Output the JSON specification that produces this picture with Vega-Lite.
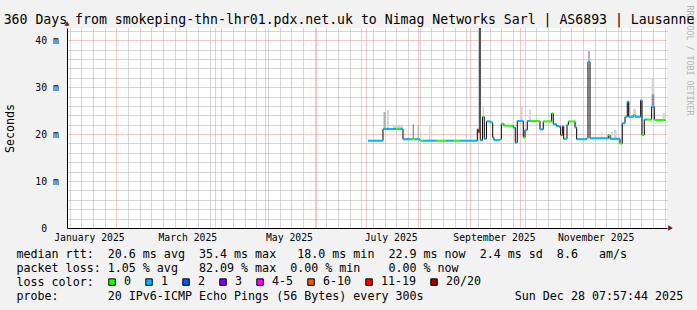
{
  "$schema": "https://vega.github.io/schema/vega-lite/v6.json",
  "width": 600,
  "height": 200,
  "autosize": "none",
  "padding": {"left": 67, "top": 28, "right": 30, "bottom": 82},
  "background": "#f2f2f2",
  "title": {
    "text": "360 Days from smokeping-thn-lhr01.pdx.net.uk to Nimag Networks Sarl | AS6893 | Lausanne",
    "font": "DejaVu Sans Mono",
    "fontSize": 13.2,
    "fontWeight": "normal",
    "color": "black",
    "anchor": "middle",
    "dx": -18,
    "offset": -32,
    "baseline": "alphabetic"
  },
  "datasets": {
    "median": [
      {"t":"2025-07-01T22:00","t2":"2025-07-10T22:00","med":18.6,"loss":"1"},
      {"t":"2025-07-10T22:00","t2":"2025-07-18T17:00","med":21.1,"loss":"1"},
      {"t":"2025-07-18T17:00","t2":"2025-07-21T03:00","med":21.1,"loss":"0"},
      {"t":"2025-07-21T03:00","t2":"2025-07-22T22:00","med":21.1,"loss":"1"},
      {"t":"2025-07-22T22:00","t2":"2025-07-28T03:00","med":18.9,"loss":"1"},
      {"t":"2025-07-28T03:00","t2":"2025-07-30T03:00","med":18.9,"loss":"0"},
      {"t":"2025-07-30T03:00","t2":"2025-08-02T03:00","med":18.9,"loss":"1"},
      {"t":"2025-08-02T03:00","t2":"2025-08-04T02:00","med":18.6,"loss":"0"},
      {"t":"2025-08-04T02:00","t2":"2025-08-12T03:00","med":18.6,"loss":"1"},
      {"t":"2025-08-12T03:00","t2":"2025-08-18T03:00","med":18.6,"loss":"0"},
      {"t":"2025-08-18T03:00","t2":"2025-08-22T02:00","med":18.6,"loss":"1"},
      {"t":"2025-08-22T02:00","t2":"2025-08-26T03:00","med":18.6,"loss":"0"},
      {"t":"2025-08-26T03:00","t2":"2025-09-05T12:00","med":18.6,"loss":"1"},
      {"t":"2025-09-05T12:00","t2":"2025-09-06T02:00","med":21.0,"loss":"4-5"},
      {"t":"2025-09-06T02:00","t2":"2025-09-07T07:00","med":20.5,"loss":"11-19"},
      {"t":"2025-09-07T07:00","t2":"2025-09-08T15:00","med":18.7,"loss":"1"},
      {"t":"2025-09-08T15:00","t2":"2025-09-09T17:00","med":23.7,"loss":"0"},
      {"t":"2025-09-09T17:00","t2":"2025-09-11T00:00","med":19.0,"loss":"1"},
      {"t":"2025-09-11T00:00","t2":"2025-09-13T13:00","med":22.7,"loss":"1"},
      {"t":"2025-09-13T13:00","t2":"2025-09-14T18:00","med":22.5,"loss":"0"},
      {"t":"2025-09-14T18:00","t2":"2025-09-15T12:00","med":19.3,"loss":"1"},
      {"t":"2025-09-15T12:00","t2":"2025-09-19T03:00","med":18.7,"loss":"1"},
      {"t":"2025-09-19T03:00","t2":"2025-09-19T22:00","med":18.9,"loss":"0"},
      {"t":"2025-09-19T22:00","t2":"2025-09-21T12:00","med":22.2,"loss":"0"},
      {"t":"2025-09-21T12:00","t2":"2025-09-27T02:00","med":21.8,"loss":"0"},
      {"t":"2025-09-27T02:00","t2":"2025-09-28T07:00","med":21.4,"loss":"1"},
      {"t":"2025-09-28T07:00","t2":"2025-09-29T12:00","med":18.2,"loss":"1"},
      {"t":"2025-09-29T12:00","t2":"2025-10-03T02:00","med":22.8,"loss":"1"},
      {"t":"2025-10-03T02:00","t2":"2025-10-04T03:00","med":19.3,"loss":"0"},
      {"t":"2025-10-04T03:00","t2":"2025-10-05T12:00","med":20.9,"loss":"1"},
      {"t":"2025-10-05T12:00","t2":"2025-10-07T03:00","med":22.8,"loss":"1"},
      {"t":"2025-10-07T03:00","t2":"2025-10-13T03:00","med":22.8,"loss":"0"},
      {"t":"2025-10-13T03:00","t2":"2025-10-15T02:00","med":21.0,"loss":"1"},
      {"t":"2025-10-15T02:00","t2":"2025-10-20T03:00","med":22.7,"loss":"0"},
      {"t":"2025-10-20T03:00","t2":"2025-10-21T02:00","med":24.4,"loss":"0"},
      {"t":"2025-10-21T02:00","t2":"2025-10-23T03:00","med":22.1,"loss":"1"},
      {"t":"2025-10-23T03:00","t2":"2025-10-24T12:00","med":21.7,"loss":"1"},
      {"t":"2025-10-24T12:00","t2":"2025-10-25T13:00","med":21.6,"loss":"4-5"},
      {"t":"2025-10-25T13:00","t2":"2025-10-26T18:00","med":19.8,"loss":"6-10"},
      {"t":"2025-10-26T18:00","t2":"2025-10-27T08:00","med":21.7,"loss":"1"},
      {"t":"2025-10-27T08:00","t2":"2025-10-29T08:00","med":19.0,"loss":"1"},
      {"t":"2025-10-29T08:00","t2":"2025-10-30T05:00","med":22.0,"loss":"1"},
      {"t":"2025-10-30T05:00","t2":"2025-11-03T03:00","med":22.7,"loss":"0"},
      {"t":"2025-11-03T03:00","t2":"2025-11-04T03:00","med":21.4,"loss":"1"},
      {"t":"2025-11-04T03:00","t2":"2025-11-10T03:00","med":18.9,"loss":"1"},
      {"t":"2025-11-10T03:00","t2":"2025-11-10T22:00","med":19.1,"loss":"0"},
      {"t":"2025-11-10T22:00","t2":"2025-11-12T03:00","med":35.4,"loss":"1"},
      {"t":"2025-11-12T03:00","t2":"2025-11-23T02:00","med":19.1,"loss":"1"},
      {"t":"2025-11-23T02:00","t2":"2025-11-24T03:00","med":19.8,"loss":"0"},
      {"t":"2025-11-24T03:00","t2":"2025-11-30T03:00","med":19.0,"loss":"1"},
      {"t":"2025-11-30T03:00","t2":"2025-12-01T12:00","med":18.0,"loss":"0"},
      {"t":"2025-12-01T12:00","t2":"2025-12-03T03:00","med":22.3,"loss":"1"},
      {"t":"2025-12-03T03:00","t2":"2025-12-04T12:00","med":23.7,"loss":"1"},
      {"t":"2025-12-04T12:00","t2":"2025-12-05T08:00","med":26.9,"loss":"1"},
      {"t":"2025-12-05T08:00","t2":"2025-12-08T02:00","med":23.7,"loss":"1"},
      {"t":"2025-12-08T02:00","t2":"2025-12-09T03:00","med":24.0,"loss":"0"},
      {"t":"2025-12-09T03:00","t2":"2025-12-12T13:00","med":23.7,"loss":"1"},
      {"t":"2025-12-12T13:00","t2":"2025-12-13T08:00","med":27.2,"loss":"1"},
      {"t":"2025-12-13T08:00","t2":"2025-12-14T17:00","med":19.8,"loss":"0"},
      {"t":"2025-12-14T17:00","t2":"2025-12-16T03:00","med":23.1,"loss":"1"},
      {"t":"2025-12-16T03:00","t2":"2025-12-19T03:00","med":23.1,"loss":"0"},
      {"t":"2025-12-19T03:00","t2":"2025-12-20T17:00","med":25.8,"loss":"1"},
      {"t":"2025-12-20T17:00","t2":"2025-12-27T13:00","med":23.0,"loss":"0"}
    ],
    "smoke": [
      {"t":"2025-07-11T05:00","t2":"2025-07-12T17:00","lo":21.1,"hi":24.7,"shade":"mid"},
      {"t":"2025-07-13T07:00","t2":"2025-07-14T12:00","lo":21.1,"hi":25.1,"shade":"low"},
      {"t":"2025-07-17T00:00","t2":"2025-07-22T22:00","lo":21.1,"hi":22.0,"shade":"low"},
      {"t":"2025-07-28T17:00","t2":"2025-07-29T12:00","lo":18.9,"hi":22.1,"shade":"high"},
      {"t":"2025-07-31T17:00","t2":"2025-08-01T12:00","lo":18.9,"hi":21.9,"shade":"mid"},
      {"t":"2025-08-07T12:00","t2":"2025-08-08T07:00","lo":18.6,"hi":21.7,"shade":"low"},
      {"t":"2025-09-06T12:00","t2":"2025-09-07T17:00","lo":20.5,"hi":42.6,"shade":"max"},
      {"t":"2025-09-08T18:00","t2":"2025-09-09T12:00","lo":23.7,"hi":25.7,"shade":"low"},
      {"t":"2025-10-01T13:00","t2":"2025-10-02T18:00","lo":22.8,"hi":25.8,"shade":"low"},
      {"t":"2025-10-06T17:00","t2":"2025-10-07T17:00","lo":22.8,"hi":25.3,"shade":"low"},
      {"t":"2025-11-03T03:00","t2":"2025-11-04T03:00","lo":21.4,"hi":22.7,"shade":"low"},
      {"t":"2025-11-10T22:00","t2":"2025-11-12T03:00","lo":35.4,"hi":37.7,"shade":"mid"},
      {"t":"2025-11-18T18:00","t2":"2025-11-19T12:00","lo":19.1,"hi":20.4,"shade":"low"},
      {"t":"2025-11-24T12:00","t2":"2025-11-25T17:00","lo":19.1,"hi":20.5,"shade":"low"},
      {"t":"2025-11-26T12:00","t2":"2025-11-28T03:00","lo":19.1,"hi":20.9,"shade":"low"},
      {"t":"2025-12-05T08:00","t2":"2025-12-06T03:00","lo":23.7,"hi":27.0,"shade":"low"},
      {"t":"2025-12-08T02:00","t2":"2025-12-09T17:00","lo":24.0,"hi":25.4,"shade":"low"},
      {"t":"2025-12-19T03:00","t2":"2025-12-20T17:00","lo":25.8,"hi":28.5,"shade":"high"},
      {"t":"2025-12-19T03:00","t2":"2025-12-20T17:00","lo":28.5,"hi":31.9,"shade":"low"},
      {"t":"2025-12-25T17:00","t2":"2025-12-26T22:00","lo":23.0,"hi":24.5,"shade":"low"}
    ],
    "xend": [{"t":"2025-12-28T07:57","v":0}],
    "ytop": [{"t":"2025-01-02T07:57","v":42.6}]
  },
  "encoding": {
    "x": {
      "field": "t",
      "type": "temporal",
      "scale": {
        "domain": [
          {"year":2025,"month":1,"date":2,"hours":7,"minutes":57},
          {"year":2025,"month":12,"date":28,"hours":7,"minutes":57}
        ],
        "nice": false
      },
      "axis": {
        "values": [
          {"year":2025,"month":1,"date":4},{"year":2025,"month":1,"date":11},{"year":2025,"month":1,"date":18},{"year":2025,"month":1,"date":25},
          {"year":2025,"month":2,"date":1},{"year":2025,"month":2,"date":8},{"year":2025,"month":2,"date":15},{"year":2025,"month":2,"date":22},
          {"year":2025,"month":3,"date":1},{"year":2025,"month":3,"date":8},{"year":2025,"month":3,"date":15},{"year":2025,"month":3,"date":22},{"year":2025,"month":3,"date":29},
          {"year":2025,"month":4,"date":1},{"year":2025,"month":4,"date":5},{"year":2025,"month":4,"date":12},{"year":2025,"month":4,"date":19},{"year":2025,"month":4,"date":26},
          {"year":2025,"month":5,"date":1},{"year":2025,"month":5,"date":3},{"year":2025,"month":5,"date":10},{"year":2025,"month":5,"date":17},{"year":2025,"month":5,"date":24},{"year":2025,"month":5,"date":31},
          {"year":2025,"month":6,"date":1},{"year":2025,"month":6,"date":7},{"year":2025,"month":6,"date":14},{"year":2025,"month":6,"date":21},{"year":2025,"month":6,"date":28},
          {"year":2025,"month":7,"date":1},{"year":2025,"month":7,"date":5},{"year":2025,"month":7,"date":12},{"year":2025,"month":7,"date":19},{"year":2025,"month":7,"date":26},
          {"year":2025,"month":8,"date":1},{"year":2025,"month":8,"date":2},{"year":2025,"month":8,"date":9},{"year":2025,"month":8,"date":16},{"year":2025,"month":8,"date":23},{"year":2025,"month":8,"date":30},
          {"year":2025,"month":9,"date":1},{"year":2025,"month":9,"date":6},{"year":2025,"month":9,"date":13},{"year":2025,"month":9,"date":20},{"year":2025,"month":9,"date":27},
          {"year":2025,"month":10,"date":1},{"year":2025,"month":10,"date":4},{"year":2025,"month":10,"date":11},{"year":2025,"month":10,"date":18},{"year":2025,"month":10,"date":25},
          {"year":2025,"month":11,"date":1},{"year":2025,"month":11,"date":8},{"year":2025,"month":11,"date":15},{"year":2025,"month":11,"date":22},{"year":2025,"month":11,"date":29},
          {"year":2025,"month":12,"date":1},{"year":2025,"month":12,"date":6},{"year":2025,"month":12,"date":13},{"year":2025,"month":12,"date":20},{"year":2025,"month":12,"date":27},
          {"year":2025,"month":1,"date":15,"hours":12},{"year":2025,"month":3,"date":15,"hours":12},{"year":2025,"month":5,"date":15,"hours":12},
          {"year":2025,"month":7,"date":15,"hours":12},{"year":2025,"month":9,"date":15,"hours":12},{"year":2025,"month":11,"date":15,"hours":12}
        ],
        "labelExpr": "hours(datum.value) == 12 ? timeFormat(datum.value, '%B %Y') : ''",
        "labelPadding": 12,
        "labelBaseline": "alphabetic",
        "labelOverlap": false,
        "labelFlush": false,
        "grid": true,
        "gridColor": {"condition": {"test": "date(datum.value) == 1 && hours(datum.value) == 0", "value": "#e89090"}, "value": "#acacac"},
        "gridOpacity": {"condition": {"test": "hours(datum.value) == 12", "value": 0}, "value": 1},
        "title": [
          "median rtt:\u00a0\u00a020.6 ms avg\u00a0\u00a035.4 ms max\u00a0\u00a0\u00a018.0 ms min\u00a0\u00a022.9 ms now\u00a0\u00a02.4 ms sd\u00a0\u00a08.6\u00a0\u00a0\u00a0am/s",
          "packet loss: 1.05 % avg\u00a0\u00a0\u00a082.09 % max\u00a0\u00a00.00 % min\u00a0\u00a0\u00a0\u00a00.00 % now",
          "loss color:",
          "probe:\u00a0\u00a0\u00a0\u00a0\u00a0\u00a0\u00a020 IPv6-ICMP Echo Pings (56 Bytes) every 300s\u00a0\u00a0\u00a0\u00a0\u00a0\u00a0\u00a0\u00a0\u00a0\u00a0\u00a0\u00a0\u00a0Sun Dec 28 07:57:44 2025"
        ],
        "titleX": -51,
        "titleY": 29.7,
        "titleAlign": "left",
        "titleBaseline": "alphabetic",
        "titleLineHeight": 14,
        "titleFontSize": 11.66
      }
    }
  },
  "layer": [
    {
      "layer": [
        {
          "data": {"name": "smoke"},
          "mark": {"type": "rect"},
          "encoding": {
            "x2": {"field": "t2"},
            "y": {
              "field": "lo",
              "type": "quantitative",
              "scale": {"domain": [0, 42.6], "nice": false, "zero": false},
              "axis": {
                "values": [0, 10, 20, 30, 40],
                "labelExpr": "datum.value == 0 ? '0\u00a0\u00a0\u200b' : datum.value + ' m'",
                "labelPadding": 8.7,
                "labelBaseline": "middle",
                "labelOverlap": false,
                "labelFlush": false,
                "grid": true,
                "gridColor": "#e89090",
                "title": "Seconds",
                "titleFontSize": 11.66,
                "titleX": -57,
                "titleY": 100,
                "titleAngle": -90,
                "titleAlign": "center",
                "titleBaseline": "middle"
              }
            },
            "y2": {"field": "hi"},
            "fill": {
              "field": "shade",
              "type": "nominal",
              "scale": {"domain": ["max","high","mid","low"], "range": ["#505050","#909090","#b4b4b4","#d4d4d4"]},
              "legend": null
            }
          }
        },
        {
          "data": {"name": "median"},
          "mark": {"type": "line", "interpolate": "step-after", "color": "black", "strokeWidth": 1},
          "encoding": {
            "y": {"field": "med", "type": "quantitative", "title": "Seconds"}
          }
        },
        {
          "data": {"name": "median"},
          "mark": {"type": "rect", "yOffset": 1, "y2Offset": -1},
          "encoding": {
            "x2": {"field": "t2"},
            "y": {"field": "med", "type": "quantitative", "title": "Seconds"},
            "y2": {"field": "med"},
            "color": {
              "field": "loss",
              "type": "nominal",
              "scale": {
                "domain": ["0","1","2","3","4-5","6-10","11-19","20/20"],
                "range": ["#26ff00","#00b8ff","#0059ff","#7e00ff","#ff00ff","#ff5500","#ff0000","#a10000"]
              },
              "legend": {
                "orient": "none",
                "legendX": 39.2,
                "legendY": 248,
                "direction": "horizontal",
                "columns": 8,
                "title": null,
                "padding": 0,
                "symbolType": "square",
                "symbolSize": 42,
                "symbolStrokeWidth": 1,
                "symbolStrokeColor": "black",
                "labelFont": "DejaVu Sans Mono",
                "labelFontSize": 11.66,
                "labelColor": "black",
                "labelOffset": 6.1,
                "columnPadding": 12,
                "encode": {
                  "symbols": {
                    "update": {
                      "fill": {"scale": "color", "field": "value"},
                      "stroke": {"value": "black"},
                      "strokeWidth": {"value": 1},
                      "opacity": {"value": 1}
                    }
                  }
                }
              }
            }
          }
        },
        {
          "data": {"name": "xend"},
          "mark": {"type": "point", "shape": "triangle-right", "filled": true, "color": "#801010", "size": 28, "opacity": 1, "xOffset": 3.5},
          "encoding": {
            "y": {"field": "v", "type": "quantitative", "title": "Seconds"}
          }
        }
      ]
    },
    {
      "data": {"name": "ytop"},
      "mark": {"type": "point", "shape": "triangle-up", "filled": true, "color": "#801010", "size": 28, "opacity": 1, "yOffset": -4.5},
      "encoding": {
        "y": {
          "field": "v",
          "type": "quantitative",
          "scale": {"domain": [0, 42.6], "nice": false, "zero": false},
          "axis": {
            "orient": "right",
            "values": [2,4,6,8,12,14,16,18,22,24,26,28,32,34,36,38,42],
            "labels": false,
            "ticks": false,
            "domain": false,
            "grid": true,
            "gridColor": "#acacac",
            "title": "RRDTOOL / TOBI OETIKER",
            "titleAngle": 90,
            "titleFontSize": 8.3,
            "titleColor": "#b4b4b4",
            "titleX": 21,
            "titleY": 32,
            "titleAlign": "center",
            "titleBaseline": "middle"
          }
        }
      }
    }
  ],
  "resolve": {"axis": {"y": "independent"}},
  "config": {
    "view": {"fill": "white", "stroke": null},
    "font": "DejaVu Sans Mono",
    "axis": {
      "domainColor": "black",
      "domainWidth": 1,
      "ticks": false,
      "labelOverlap": false,
      "labelFont": "DejaVu Sans Mono",
      "labelFontSize": 9.75,
      "labelColor": "black",
      "titleFont": "DejaVu Sans Mono",
      "titleFontWeight": "normal",
      "titleColor": "black",
      "gridDash": [1, 1],
      "gridWidth": 1
    }
  }
}
